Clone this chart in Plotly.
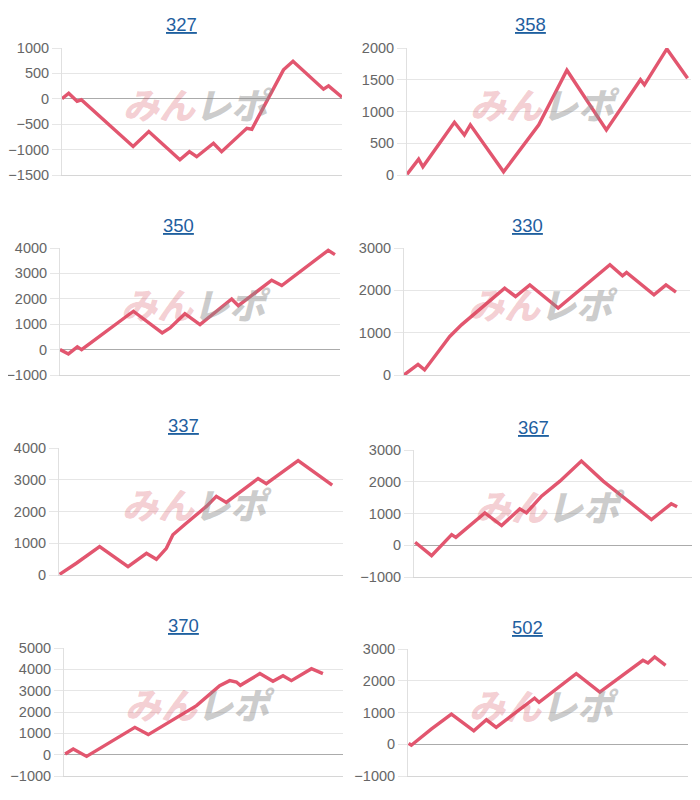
import plotly.graph_objects as go

# ---------------- data (x: position along the game axis, 0-100; y: cumulative diff) ----------------
titles = ["327", "358", "350", "330", "337", "367", "370", "502"]

x_327 = [0, 2.4, 5.4, 6.9, 25.4, 31.0, 42.1, 45.5, 48.1, 54.1, 57.0, 66.0, 67.8, 79.1, 82.5, 93.4, 95.2, 100]
y_327 = [0, 110, -50, -20, -940, -645, -1200, -1040, -1140, -875, -1040, -580, -600, 570, 740, 190, 255, 30]

x_358 = [0, 4.1, 5.6, 16.7, 20.2, 22.3, 34.0, 46.4, 56.3, 70.2, 82.2, 83.6, 91.5, 98.8]
y_358 = [10, 250, 130, 830, 630, 790, 50, 790, 1650, 710, 1500, 1420, 1985, 1525]

x_350 = [0, 3.0, 6.2, 7.7, 26.2, 36.5, 39.3, 44.6, 50.0, 61.3, 63.7, 75.6, 79.2, 95.8, 98.2]
y_350 = [0, -170, 105, 0, 1510, 655, 850, 1415, 985, 1995, 1730, 2730, 2520, 3910, 3740]

x_330 = [0, 4.9, 7.2, 16.0, 20.1, 35.2, 39.0, 44.0, 53.9, 72.0, 76.4, 77.8, 87.4, 91.6, 95.1]
y_330 = [0, 250, 120, 910, 1185, 2050, 1855, 2130, 1580, 2605, 2345, 2420, 1895, 2130, 1960]

x_337 = [0.2, 6.1, 14.3, 24.3, 30.8, 34.3, 37.8, 40.1, 44.8, 51.9, 55.4, 58.9, 70.1, 73.0, 84.2, 96.2]
y_337 = [20, 370, 895, 265, 685, 495, 840, 1265, 1630, 2160, 2475, 2285, 3040, 2875, 3600, 2830]

x_367 = [0.4, 6.3, 13.5, 15.0, 25.4, 31.4, 37.9, 40.3, 45.7, 52.3, 60.0, 67.8, 85.1, 92.2, 94.3]
y_367 = [95, -325, 335, 250, 1020, 620, 1145, 1020, 1545, 2020, 2650, 2020, 810, 1305, 1210]

x_370 = [0.4, 3.3, 8.1, 10.5, 25.4, 30.2, 47.5, 55.8, 59.4, 61.8, 63.2, 70.2, 74.9, 78.5, 81.5, 88.7, 92.8]
y_370 = [30, 265, -80, 110, 1280, 940, 2300, 3235, 3470, 3405, 3250, 3800, 3440, 3700, 3470, 4030, 3800]

x_502 = [0.2, 1.2, 8.3, 15.5, 23.5, 28.0, 31.5, 45.2, 46.8, 60.1, 68.5, 83.9, 85.7, 88.1, 92.0]
y_502 = [30, -30, 475, 950, 425, 770, 530, 1450, 1320, 2220, 1640, 2645, 2560, 2750, 2485]

series_x = [x_327, x_358, x_350, x_330, x_337, x_367, x_370, x_502]
series_y = [y_327, y_358, y_350, y_330, y_337, y_367, y_370, y_502]

y_min = [-1500, 0, -1000, 0, 0, -1000, -1000, -1000]
y_max = [1000, 2000, 4000, 3000, 4000, 3000, 5000, 3000]
y_step = [500, 500, 1000, 1000, 1000, 1000, 1000, 1000]

# ---------------- layout (pixel boxes of each plot area, in page pixels) ----------------
W, H = 700, 800
PAGE_OFF = 8  # browser default body margin
boxes = [  # left, right, top, bottom
    (62, 342, 48, 175), (407, 691, 48, 175),
    (60, 340, 248, 375), (404, 690, 248, 375),
    (59, 343, 448, 575), (414, 693, 450, 577),
    (64, 343, 648, 776), (408, 688, 649, 776),
]
title_pos = [(181, 25), (530, 25), (178, 225), (527, 225),
             (183, 425), (533, 427), (183, 625), (527, 627)]


def px(xp):
    return (xp - PAGE_OFF) / W


def py(yp):
    return 1 - (yp - PAGE_OFF) / H


LINE = "#e2566f"
FONT = "Liberation Sans, Arial, sans-serif"
PINK = "rgba(214,70,85,0.40)"
GREY = "rgba(140,140,140,0.66)"

fig = go.Figure()
layout = dict(
    width=W, height=H, margin=dict(l=0, r=0, t=0, b=0, pad=0, autoexpand=False),
    paper_bgcolor="white", plot_bgcolor="white", showlegend=False,
    font=dict(family=FONT), annotations=[],
)

for i in range(8):
    k = i + 1
    xn = "x" if k == 1 else f"x{k}"
    yn = "y" if k == 1 else f"y{k}"
    xa = "xaxis" if k == 1 else f"xaxis{k}"
    ya = "yaxis" if k == 1 else f"yaxis{k}"
    l, r, t, b = boxes[i]

    fig.add_trace(go.Scatter(
        x=series_x[i], y=series_y[i], xaxis=xn, yaxis=yn, mode="lines",
        line=dict(color=LINE, width=3.4), hoverinfo="skip",
    ))

    layout[xa] = dict(
        domain=[px(l), px(r)], range=[0, 100], anchor=yn, automargin=False,
        showgrid=False, zeroline=False, showticklabels=False, ticks="",
        showline=True, linecolor="#d6d6d6", linewidth=1, fixedrange=True,
    )
    layout[ya] = dict(
        domain=[py(b), py(t)], range=[y_min[i], y_max[i]], anchor=xn,
        automargin=False,
        tick0=0, dtick=y_step[i], showgrid=True, gridcolor="#e6e6e6", gridwidth=1,
        zeroline=True, zerolinecolor="#ababab", zerolinewidth=1,
        showline=True, linecolor="#e0e0e0", linewidth=1,
        ticks="outside", ticklen=9, tickcolor="#e6e6e6", tickwidth=1,
        tickfont=dict(family=FONT, size=14.5, color="#666666"),
        fixedrange=True,
    )

    tx, ty = title_pos[i]
    layout["annotations"].append(dict(
        text=f"<u>{titles[i]}</u>", x=px(tx), y=py(ty), xref="paper", yref="paper",
        xanchor="center", yanchor="middle", showarrow=False,
        font=dict(family=FONT, size=18.5, color="#1f609f"),
    ))
    # watermark logo
    layout["annotations"].append(dict(
        text=(f"<i><span style='color:{PINK}'>みん</span>"
              f"<span style='color:{GREY}'>レポ</span></i>"),
        x=px((l + r) / 2 - 4), y=py(t + 55), xref="paper", yref="paper",
        xanchor="center", yanchor="middle", showarrow=False,
        font=dict(family="Noto Sans CJK JP", size=36, weight=900, color=GREY),
    ))

fig.update_layout(**layout)
fig.write_html("out.html")
